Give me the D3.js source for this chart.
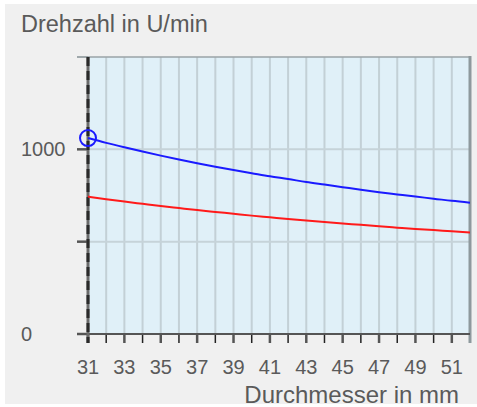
<!DOCTYPE html>
<html><head><meta charset="utf-8">
<script src="https://cdn.jsdelivr.net/npm/d3@7"></script>
<style>
html,body{margin:0;padding:0;background:#fff;}
svg{display:block;}
text{font-family:"Liberation Sans",Arial,sans-serif;fill:#5a5a5a;}
</style></head>
<body>
<script>
const diameters = [31,32,33,34,35,36,37,38,39,40,41,42,43,44,45,46,47,48,49,50,51,52];
const blueSpeed = [1061,1035,1011,988,966,945,925,906,888,871,854,839,823,809,795,781,768,756,744,733,721,711];
const redSpeed  = [744,730,717,705,693,682,671,661,651,641,632,623,615,606,598,591,583,576,569,563,556,550];
const xTickLabels = [31,33,35,37,39,41,43,45,47,49,51];
const yTicks = [0,500,1000,1500];
const yTickLabels = [0,1000];
const yTitle = "Drehzahl in U/min";
const xTitle = "Durchmesser in mm";

const W = 477, H = 407;
const svg = d3.select("body").append("svg").attr("width", W).attr("height", H);
svg.append("rect").attr("x",5).attr("y",4).attr("width",W-5).attr("height",400).attr("fill","#f0f0f0");

const x = d3.scaleLinear().domain([31,52]).range([88,470]);
const y = d3.scaleLinear().domain([0,1500]).range([334,57]);

// plot background
svg.append("rect").attr("x",x(31)).attr("y",y(1500)).attr("width",x(52)-x(31)).attr("height",y(0)-y(1500)).attr("fill","#e0f0f8");

// vertical grid
svg.append("g").selectAll("line").data(diameters.slice(1,-1)).join("line")
  .attr("x1",d=>x(d)).attr("x2",d=>x(d)).attr("y1",y(1500)).attr("y2",y(0))
  .attr("stroke","#c3d0d6").attr("stroke-width",2);
// horizontal grid
svg.append("g").selectAll("line").data([500,1000]).join("line")
  .attr("x1",x(31)).attr("x2",x(52)).attr("y1",d=>y(d)).attr("y2",d=>y(d))
  .attr("stroke","#c6d3d9").attr("stroke-width",2);
// top border
svg.append("line").attr("x1",77).attr("x2",x(52)).attr("y1",y(1500)).attr("y2",y(1500))
  .attr("stroke","#9aa3a7").attr("stroke-width",1.5);
// right border
svg.append("line").attr("x1",x(52)).attr("x2",x(52)).attr("y1",y(1500)-1).attr("y2",y(0)+9)
  .attr("stroke","#8e999d").attr("stroke-width",3);

// y ticks
svg.append("g").selectAll("line").data(yTicks).join("line")
  .attr("x1",77).attr("x2",x(31)).attr("y1",d=>y(d)).attr("y2",d=>y(d))
  .attr("stroke",d=>d===1500?"#9aa3a7":"#555").attr("stroke-width",d=>d===1500?1.5:2.5);
// x ticks
svg.append("g").selectAll("line").data(diameters.slice(0,-1)).join("line")
  .attr("x1",d=>x(d)).attr("x2",d=>x(d)).attr("y1",y(0)).attr("y2",y(0)+9)
  .attr("stroke",(d,i)=>i%2?"#222":"#555").attr("stroke-width",(d,i)=>i%2?1.5:2.5);

// bottom axis line
svg.append("line").attr("x1",77).attr("x2",x(52)).attr("y1",y(0)).attr("y2",y(0))
  .attr("stroke","#555").attr("stroke-width",2);
// left axis (dashed)
svg.append("line").attr("x1",x(31)).attr("x2",x(31)).attr("y1",y(1500)).attr("y2",y(0)+9)
  .attr("stroke","#6a6a6a").attr("stroke-width",3);
svg.append("line").attr("x1",x(31)).attr("x2",x(31)).attr("y1",y(1500)).attr("y2",y(0)+9)
  .attr("stroke","#2a2a2a").attr("stroke-width",3).attr("stroke-dasharray","9,5");

// lines
const line = d3.line().x((d,i)=>x(diameters[i])).y(d=>y(d)).curve(d3.curveMonotoneX);
svg.append("path").datum(redSpeed).attr("d",line).attr("fill","none").attr("stroke","#ff1a1a").attr("stroke-width",2);
svg.append("path").datum(blueSpeed).attr("d",line).attr("fill","none").attr("stroke","#1a1aff").attr("stroke-width",2);
svg.append("circle").attr("cx",x(diameters[0])).attr("cy",y(blueSpeed[0])).attr("r",8)
  .attr("fill","none").attr("stroke","#1a1aff").attr("stroke-width",2);

// labels
svg.append("g").selectAll("text").data(yTickLabels).join("text")
  .attr("x",21).attr("y",d=>y(d)+7).attr("font-size",20).text(d=>d);
svg.append("g").selectAll("text").data(xTickLabels).join("text")
  .attr("x",d=>x(d)).attr("y",374).attr("text-anchor","middle").attr("font-size",20).text(d=>d);
svg.append("text").attr("x",21).attr("y",32).attr("font-size",23.5).text(yTitle);
svg.append("text").attr("x",459).attr("y",403).attr("text-anchor","end").attr("font-size",24).text(xTitle);
</script>
</body></html>
